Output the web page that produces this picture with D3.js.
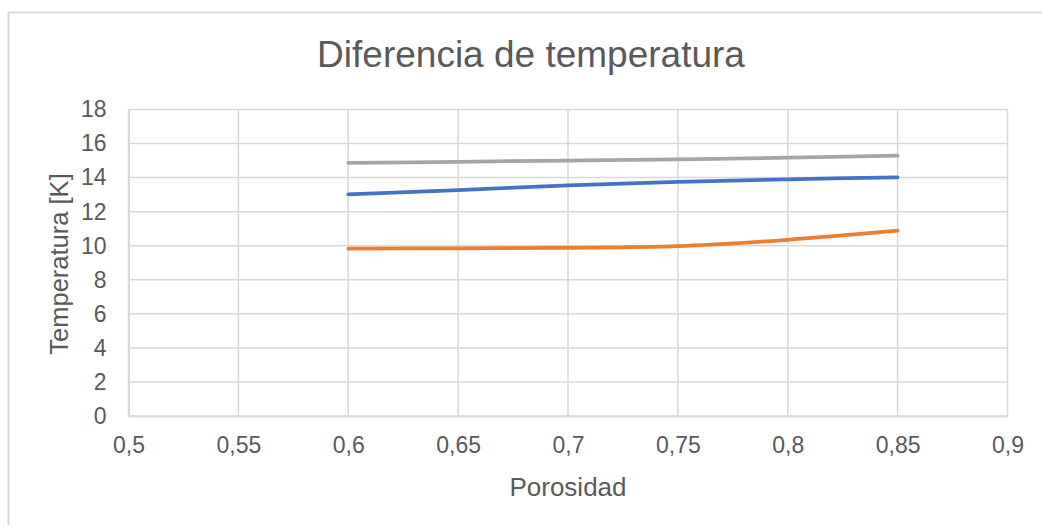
<!DOCTYPE html>
<html>
<head>
<meta charset="utf-8">
<script src="https://cdn.jsdelivr.net/npm/d3@7"></script>
<style>
  body { margin: 0; background: #fff; }
  text { font-family: "Liberation Sans", Arial, sans-serif; fill: #595959; }
</style>
</head>
<body>
<div id="chart"></div>
<script>
// data
var porosidad = [0.6, 0.65, 0.7, 0.75, 0.8, 0.85];
var serieAzul = [13.02, 13.27, 13.55, 13.75, 13.9, 14.02];
var serieNaranja = [9.83, 9.85, 9.88, 9.97, 10.35, 10.88];
var serieGris = [14.86, 14.93, 15.0, 15.07, 15.17, 15.29];
var xTicks = [0.5, 0.55, 0.6, 0.65, 0.7, 0.75, 0.8, 0.85, 0.9];
var yTicks = [0, 2, 4, 6, 8, 10, 12, 14, 16, 18];

var W = 1042, H = 525;
var margin = { top: 109.5, right: 34.5, bottom: 109, left: 128.5 },
    width = W - margin.left - margin.right,
    height = H - margin.top - margin.bottom;

var svg = d3.select("#chart")
    .append("svg")
    .attr("width", W)
    .attr("height", H);

// outer chart border
svg.append("rect")
    .attr("x", 8.5).attr("y", 12.5)
    .attr("width", W + 10).attr("height", H + 10)
    .attr("fill", "none")
    .attr("stroke", "#d9d9d9")
    .attr("stroke-width", 2);

svg.append("text")
    .attr("x", 531).attr("y", 67)
    .attr("text-anchor", "middle")
    .style("font-size", "37px")
    .text("Diferencia de temperatura");

var g = svg.append("g")
    .attr("transform", "translate(" + margin.left + "," + margin.top + ")");

var x = d3.scaleLinear().domain([0.5, 0.9]).range([0, width]);
var y = d3.scaleLinear().domain([0, 18]).range([height, 0]);

var fmt = function (d) { return String(+d.toFixed(2)).replace(".", ","); };

// gridlines
g.append("g")
    .selectAll("line.h")
    .data(yTicks)
    .enter().append("line")
    .attr("x1", 0).attr("x2", width)
    .attr("y1", function (d) { return y(d); })
    .attr("y2", function (d) { return y(d); })
    .attr("stroke", "#d9d9d9").attr("stroke-width", 1.5);

g.append("g")
    .selectAll("line.v")
    .data(xTicks)
    .enter().append("line")
    .attr("y1", 0).attr("y2", height)
    .attr("x1", function (d) { return x(d); })
    .attr("x2", function (d) { return x(d); })
    .attr("stroke", "#d9d9d9").attr("stroke-width", 1.5);

// axes
var xAxis = g.append("g")
    .attr("transform", "translate(0," + height + ")")
    .call(d3.axisBottom(x).tickValues(xTicks).tickFormat(fmt).tickSize(0).tickPadding(21));
var yAxis = g.append("g")
    .call(d3.axisLeft(y).tickValues(yTicks).tickSize(0).tickPadding(22));

[xAxis, yAxis].forEach(function (a) {
    a.select(".domain").attr("stroke", "#d9d9d9").attr("stroke-width", 2);
    a.selectAll("text")
        .style("font-size", "23px")
        .style("font-family", '"Liberation Sans", Arial, sans-serif')
        .attr("fill", "#595959");
});

svg.append("text")
    .attr("x", 568).attr("y", 496)
    .attr("text-anchor", "middle")
    .style("font-size", "26px")
    .text("Porosidad");

svg.append("text")
    .attr("transform", "translate(68,264) rotate(-90)")
    .attr("text-anchor", "middle")
    .style("font-size", "25.5px")
    .text("Temperatura [K]");

// series
var line = d3.line()
    .x(function (d) { return x(d[0]); })
    .y(function (d) { return y(d[1]); })
    .curve(d3.curveCatmullRom.alpha(0.5));

var series = [
    { values: serieAzul, color: "#4472c4" },
    { values: serieNaranja, color: "#ed7d31" },
    { values: serieGris, color: "#a5a5a5" }
];

series.forEach(function (s) {
    g.append("path")
        .datum(porosidad.map(function (p, i) { return [p, s.values[i]]; }))
        .attr("fill", "none")
        .attr("stroke", s.color)
        .attr("stroke-width", 3.75)
        .attr("stroke-linecap", "round")
        .attr("d", line);
});
</script>
</body>
</html>
